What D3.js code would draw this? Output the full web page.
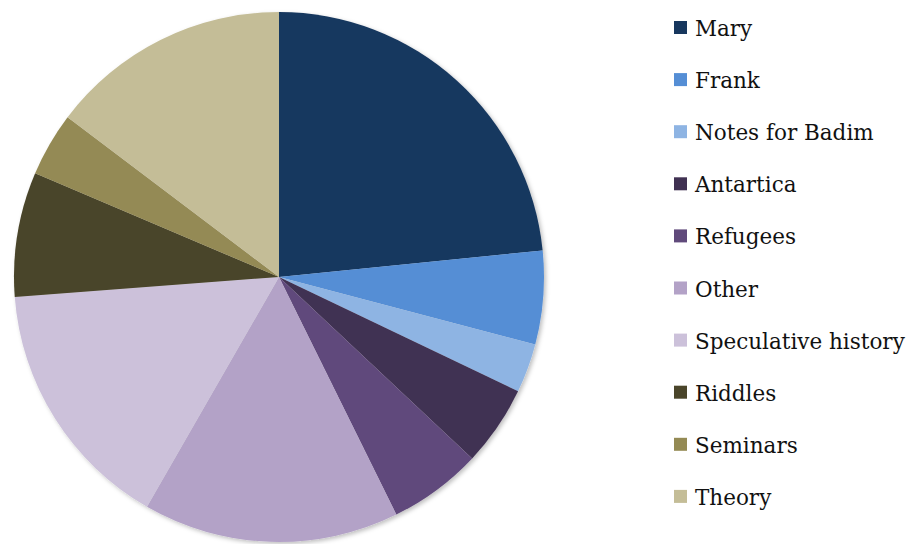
<!DOCTYPE html>
<html>
<head>
<meta charset="utf-8">
<script src="https://cdn.jsdelivr.net/npm/d3@7"></script>
<style>
  body { margin: 0; background: #fff; }
  svg { display: block; }
</style>
</head>
<body>
<script>
// data (share of the pie, in percent)
var categories = ["Mary", "Frank", "Notes for Badim", "Antartica", "Refugees",
                  "Other", "Speculative history", "Riddles", "Seminars", "Theory"];
var values = [23.4, 5.7, 3.0, 4.9, 5.7, 15.6, 15.5, 7.6, 3.9, 14.7];
var colors = ["#17375e", "#558ed5", "#8eb4e3", "#403152", "#604a7b",
              "#b3a2c7", "#ccc1da", "#4a452a", "#948a54", "#c4bd97"];

var width = 913, height = 544;
var cx = 279, cy = 277, radius = 265;

var svg = d3.select("body").append("svg")
    .attr("width", width)
    .attr("height", height);

// soft shadow round the pie
var defs = svg.append("defs");
var f = defs.append("filter").attr("id", "shadow")
    .attr("x", "-10%").attr("y", "-10%").attr("width", "120%").attr("height", "120%");
f.append("feDropShadow")
    .attr("dx", 2).attr("dy", 2).attr("stdDeviation", 2)
    .attr("flood-color", "#000").attr("flood-opacity", 0.25);

var data = categories.map(function(c, i) { return {name: c, value: values[i]}; });

var color = d3.scaleOrdinal().domain(categories).range(colors);

var pie = d3.pie().sort(null).value(function(d) { return d.value; });
var arc = d3.arc().innerRadius(0).outerRadius(radius);

var g = svg.append("g")
    .attr("transform", "translate(" + cx + "," + cy + ")")
    .attr("filter", "url(#shadow)");

g.selectAll("path")
    .data(pie(data))
    .enter().append("path")
    .attr("d", arc)
    .attr("fill", function(d) { return color(d.data.name); });

// legend
var legend = svg.append("g").attr("transform", "translate(674,28)");
var rowH = 52.1;

var item = legend.selectAll(".item")
    .data(categories)
    .enter().append("g")
    .attr("class", "item")
    .attr("transform", function(d, i) { return "translate(0," + (i * rowH) + ")"; });

item.append("rect")
    .attr("x", 0).attr("y", -7)
    .attr("width", 13).attr("height", 13)
    .attr("fill", function(d) { return color(d); });

item.append("text")
    .attr("x", 21).attr("y", 8)
    .attr("font-family", "'DejaVu Serif', 'Liberation Serif', serif")
    .attr("font-size", 21.5)
    .attr("fill", "#111")
    .text(function(d) { return d; });
</script>
</body>
</html>
